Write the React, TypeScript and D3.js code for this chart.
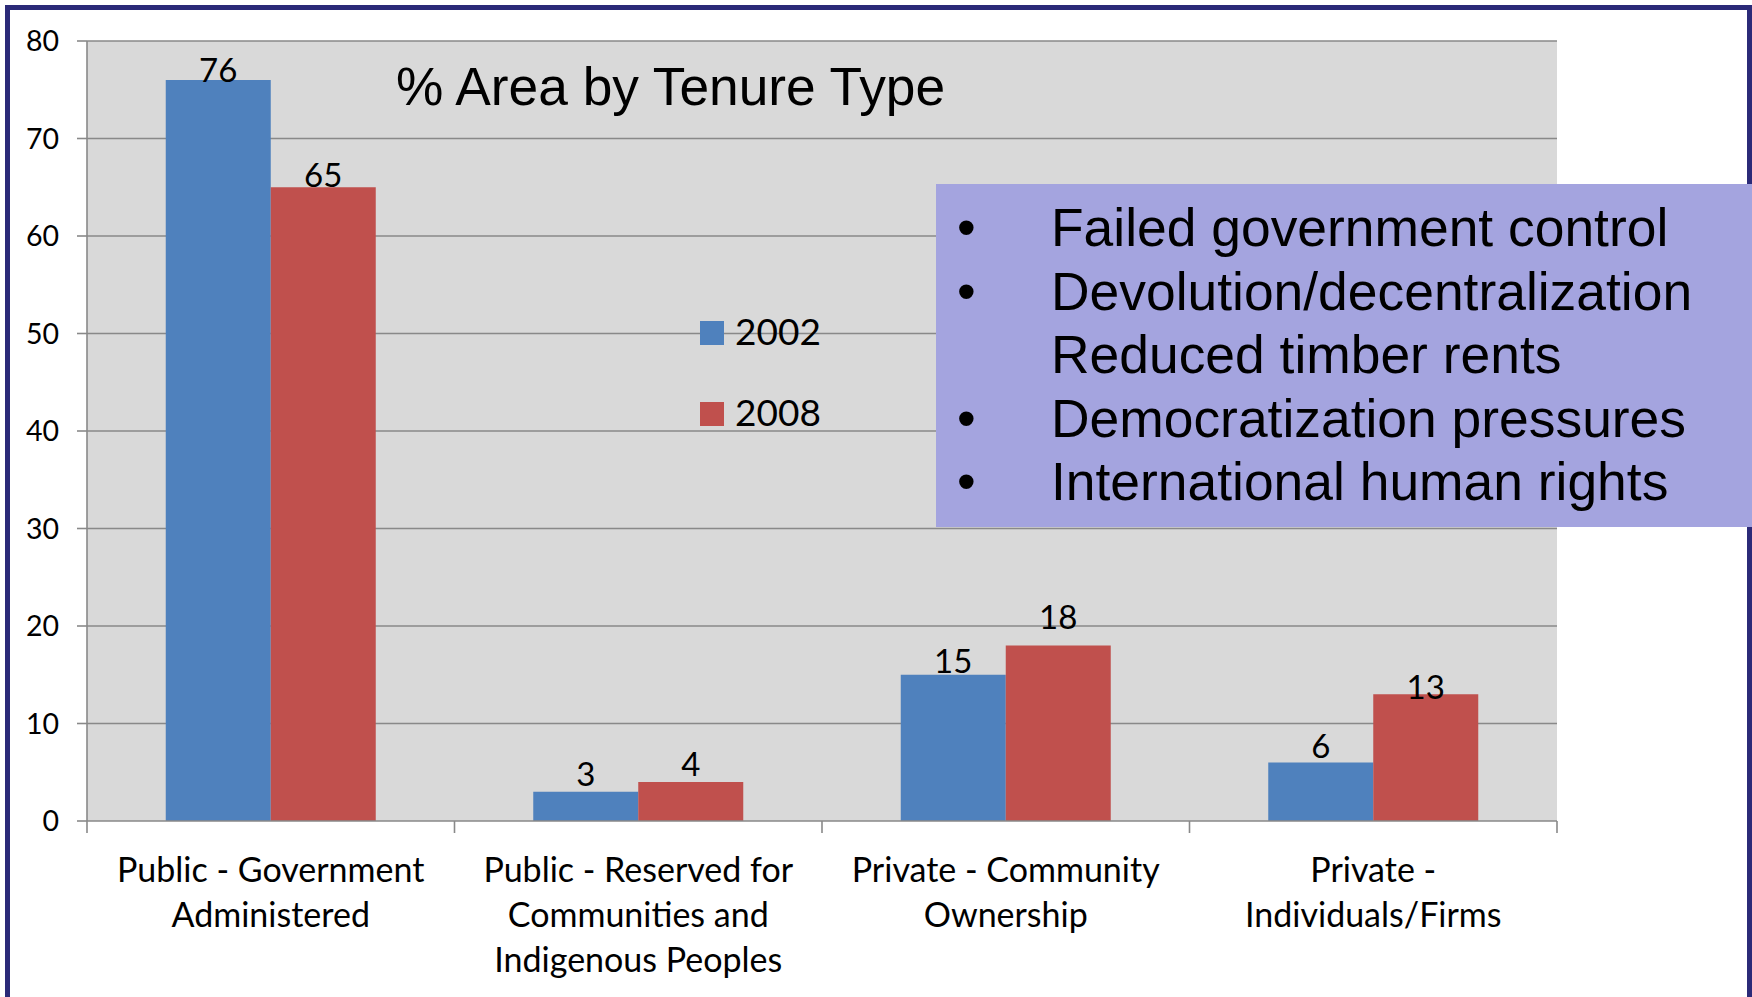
import React from "react";
import * as d3 from "d3";

const categories = [
  "Public - Government Administered",
  "Public - Reserved for Communities and Indigenous Peoples",
  "Private - Community Ownership",
  "Private - Individuals/Firms",
];
const categoryLines = [
  ["Public - Government", "Administered"],
  ["Public - Reserved for", "Communities and", "Indigenous Peoples"],
  ["Private - Community", "Ownership"],
  ["Private -", "Individuals/Firms"],
];
const seriesNames = ["2002", "2008"];
const values2002 = [76, 3, 15, 6];
const values2008 = [65, 4, 18, 13];
const yTicks = [0, 10, 20, 30, 40, 50, 60, 70, 80];
const titleText = "% Area by Tenure Type";
const boxLines = [
  { bullet: true, text: "Failed government control" },
  { bullet: true, text: "Devolution/decentralization" },
  { bullet: false, text: "Reduced timber rents" },
  { bullet: true, text: "Democratization pressures" },
  { bullet: true, text: "International human rights" },
];

// label baseline offsets relative to bar top (layout only)
const labelDy = [
  [2, -6, -2, -4.5],
  [0, -6.5, -17, 5],
];

const W = 1752;
const H = 997;
const COLORS = ["#4F81BD", "#C0504D"];
const CAL = "Lato, 'Open Sans', sans-serif";
const ARIAL = "'Liberation Sans', Arial, sans-serif";

export default function App() {
  const x = d3.scaleBand<string>().domain(categories).range([87, 1557]).paddingInner(0).paddingOuter(0);
  const xs = d3.scaleBand<string>().domain(seriesNames).range([0, x.bandwidth()]).paddingInner(0).paddingOuter(0.75);
  const y = d3.scaleLinear().domain([0, 80]).range([821, 41]);
  const series = [values2002, values2008];
  const [x0, x1] = x.range();
  const boundaries = categories.map((c) => x(c) as number).concat([x1]);

  return (
    <svg width={W} height={H} style={{ position: "absolute", left: 0, top: 0, background: "#fff" }}>
      <rect x={0} y={0} width={W} height={H} fill="#fff" />
      {/* plot background */}
      <rect x={x0} y={y(80)} width={x1 - x0} height={y(0) - y(80)} fill="#D9D9D9" />
      {/* gridlines */}
      {yTicks.filter((t) => t > 0).map((t) => (
        <line key={"g" + t} x1={x0} x2={x1} y1={y(t)} y2={y(t)} stroke="#898989" strokeWidth={1.6} />
      ))}
      {/* y axis */}
      <line x1={x0} x2={x0} y1={y(80)} y2={y(0)} stroke="#898989" strokeWidth={1.6} />
      {yTicks.map((t) => (
        <g key={"yt" + t}>
          <line x1={x0 - 10} x2={x0} y1={y(t)} y2={y(t)} stroke="#898989" strokeWidth={1.6} />
          <text x={59} y={y(t) + 10} textAnchor="end" fontFamily={CAL} fontSize={28.5} fill="#000">
            {t}
          </text>
        </g>
      ))}
      {/* bars */}
      {series.map((vals, si) =>
        vals.map((v, ci) => {
          const bx = (x(categories[ci]) as number) + (xs(seriesNames[si]) as number);
          return (
            <rect key={`b${si}-${ci}`} x={bx} y={y(v)} width={xs.bandwidth()} height={y(0) - y(v)} fill={COLORS[si]} />
          );
        })
      )}
      {/* x axis */}
      <line x1={x0} x2={x1} y1={y(0)} y2={y(0)} stroke="#898989" strokeWidth={1.6} />
      {boundaries.map((bx, i) => (
        <line key={"xt" + i} x1={bx} x2={bx} y1={y(0)} y2={y(0) + 12} stroke="#898989" strokeWidth={1.6} />
      ))}
      {/* data labels */}
      {series.map((vals, si) =>
        vals.map((v, ci) => {
          const cx = (x(categories[ci]) as number) + (xs(seriesNames[si]) as number) + xs.bandwidth() / 2;
          return (
            <text key={`l${si}-${ci}`} x={cx} y={y(v) + labelDy[si][ci]} textAnchor="middle" fontFamily={CAL} fontSize={33} fill="#000">
              {v}
            </text>
          );
        })
      )}
      {/* category labels */}
      {categoryLines.map((lines, ci) => {
        const cx = (x(categories[ci]) as number) + x.bandwidth() / 2;
        return (
          <text key={"c" + ci} textAnchor="middle" fontFamily={CAL} fontSize={34} fill="#000">
            {lines.map((ln, li) => (
              <tspan key={li} x={cx} y={882 + li * 45}>
                {ln}
              </tspan>
            ))}
          </text>
        );
      })}
      {/* title */}
      <text x={396} y={105} fontFamily={ARIAL} fontSize={53.3} fill="#000">
        {titleText}
      </text>
      {/* legend */}
      {seriesNames.map((s, i) => (
        <g key={"lg" + s}>
          <rect x={700} y={321 + i * 81} width={24} height={24} fill={COLORS[i]} />
          <text x={735} y={345 + i * 81} fontFamily={CAL} fontSize={37} fill="#000">
            {s}
          </text>
        </g>
      ))}
      {/* frame */}
      <rect x={7.5} y={7.5} width={1742} height={1100} fill="none" stroke="#2B2A78" strokeWidth={5} />
      {/* text box */}
      <rect x={936} y={184} width={W - 936} height={343} fill="#A4A4DF" />
      {boxLines.map((b, i) => (
        <g key={"bx" + i}>
          {b.bullet && (
            <text x={957} y={246 + i * 63.5} fontFamily={ARIAL} fontSize={53.4} fill="#000">
              {"\u2022"}
            </text>
          )}
          <text x={1051} y={246 + i * 63.5} fontFamily={ARIAL} fontSize={53.4} fill="#000">
            {b.text}
          </text>
        </g>
      ))}
    </svg>
  );
}
